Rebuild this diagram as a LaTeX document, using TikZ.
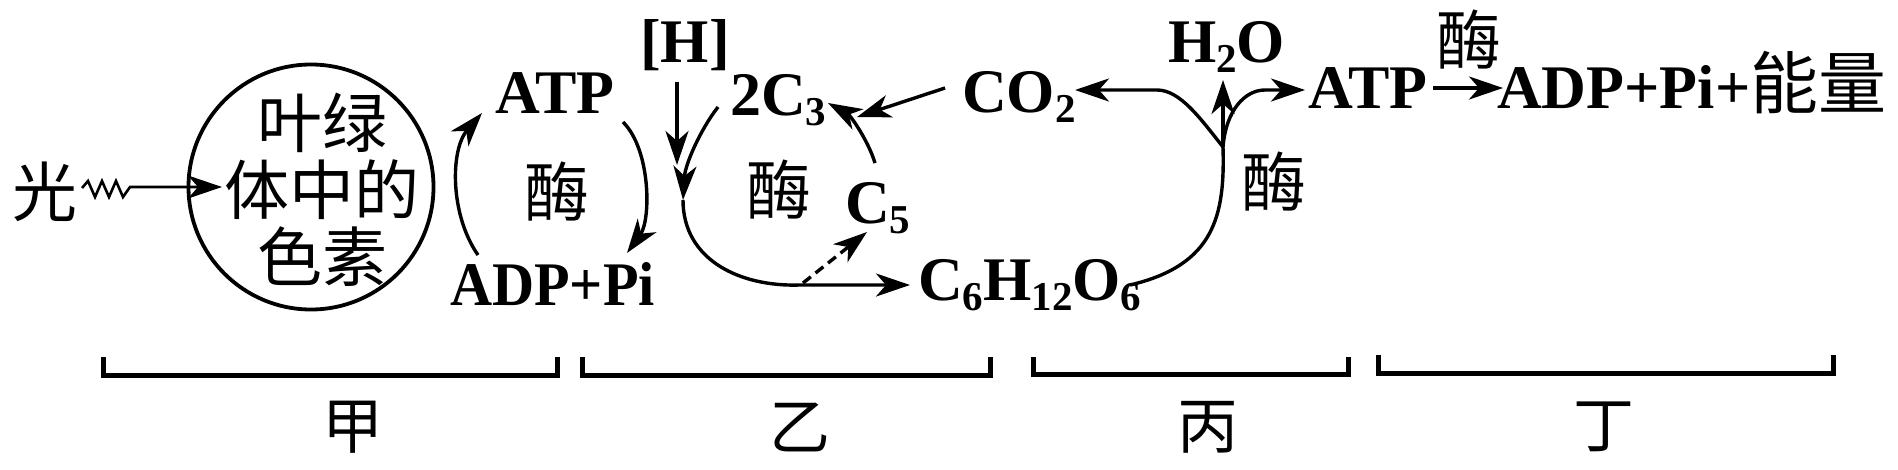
\documentclass[tikz,border=0pt]{standalone}
\usepackage{fontspec}
\setmainfont{Liberation Serif}
\newfontfamily\cjk{Noto Sans CJK SC}
\usetikzlibrary{arrows.meta}
\newcommand\subs[1]{\raisebox{-10pt}{\fontsize{41}{41}\selectfont #1}}
\tikzset{
  lat/.style={font=\fontsize{62}{62}\selectfont\bfseries, inner sep=0pt, anchor=base west},
  cj/.style={font=\fontsize{65}{65}\selectfont\cjk, inner sep=0pt},
  lab/.style={font=\fontsize{61}{61}\selectfont\cjk, inner sep=0pt},
  arr/.style={line width=3.4pt, -{Stealth[length=34pt,width=23pt,inset=10pt]}},
  ln/.style={line width=3.4pt},
  brk/.style={line width=5pt},
}
\begin{document}
\begin{tikzpicture}[x=1pt,y=-1pt]
\useasboundingbox (0,0) rectangle (1898,469);
% texts
\node[cj] (guang) at (45,192) {光};
\node[draw, circle, line width=3.8pt, minimum size=245pt, inner sep=0pt] (circ) at (311,187) {};
\node[cj, align=center, font=\fontsize{65}{67}\selectfont\cjk] (pig) at (322,190) {叶绿\\体中的\\色素};
\node[lat] (atp1) at (495,113) {ATP};
\node[lat] (adp1) at (450,305) {\scalebox{0.94}[1]{ADP+Pi}};
\node[cj] (mei1) at (557,192) {酶};
\node[lat] (H) at (640,62) {[H]};
\node[lat] (c3) at (730,115) {2C\subs{3}};
\node[cj] (mei2) at (779,190) {酶};
\node[lat] (c5) at (845,223) {C\subs{5}};
\node[lat] (co2) at (962,112) {CO\subs{2}};
\node[lat] (h2o) at (1168,62) {H\subs{2}O};
\node[lat] (glc) at (918,300) {C\subs{6}H\subs{12}O\subs{6}};
\node[cj] (mei3) at (1274,182) {酶};
\node[lat] (atp2) at (1308,108) {ATP};
\node[cj] (mei4) at (1469,40) {酶};
\node[lat] (adp2) at (1497,108) {ADP+Pi+{\cjk\mdseries\fontsize{68}{68}\selectfont 能量}};
% coordinates
\coordinate (zs) at (82,188);
\coordinate (zt) at (222,187);
\coordinate (a1s) at (478,255);
\coordinate (a1e) at (482,113);
\coordinate (a2s) at (623,122);
\coordinate (a2e) at (627,253);
\coordinate (hs) at (677,82);
\coordinate (he) at (677,165);
\coordinate (cs) at (718,107);
\coordinate (cm) at (683,200);
\coordinate (ce) at (910,285);
\coordinate (ds) at (803,283);
\coordinate (de) at (867,232);
\coordinate (c5s) at (875,163);
\coordinate (c5e) at (828,103);
\coordinate (co2s) at (945,88);
\coordinate (co2e) at (857,117);
\coordinate (gs) at (1130,285);
\coordinate (br) at (1223,147);
\coordinate (we) at (1223,80);
\coordinate (ke) at (1075,90);
\coordinate (te) at (1305,90);
\coordinate (rs) at (1433,88);
\coordinate (re) at (1503,88);
% connectors
\draw[arr, line width=2.6pt] (zs) -- (88,181) -- (95,197) -- (102,181) -- (109,197) -- (116,181) -- (123,197) -- (130,187) -- (zt);
\draw[arr] (a1s) .. controls (450,215) and (450,150) .. (a1e);
\draw[arr] (a2s) .. controls (651,150) and (651,220) .. (a2e);
\draw[arr] (hs) -- (he);
\draw[arr] (cs) .. controls (700,130) and (685,165) .. (cm);
\draw[arr] (cm) .. controls (683,260) and (740,287) .. (800,285) -- (ce);
\draw[arr, dash pattern=on 10pt off 6pt] (ds) -- (de);
\draw[arr] (c5s) .. controls (868,140) and (850,115) .. (c5e);
\draw[arr] (co2s) -- (co2e);
\draw[ln] (gs) .. controls (1215,265) and (1225,215) .. (br);
\draw[arr] (br) -- (we);
\draw[arr] (br) .. controls (1200,118) and (1180,90) .. (1157,90) -- (ke);
\draw[arr] (br) .. controls (1226,110) and (1245,90) .. (1265,90) -- (te);
\draw[arr] (rs) -- (re);
% brackets
\draw[brk] (103,357) |- (557,375) -- (557,357);
\draw[brk] (582,357) |- (990,375) -- (990,357);
\draw[brk] (1033,357) |- (1348,374) -- (1348,357);
\draw[brk] (1378,355) |- (1833,373) -- (1833,355);
\node[lab] (jia) at (353,427) {甲};
\node[lab] (yi) at (800,427) {乙};
\node[lab] (bing) at (1208,427) {丙};
\node[lab] (ding) at (1604,427) {丁};
\end{tikzpicture}
\end{document}
